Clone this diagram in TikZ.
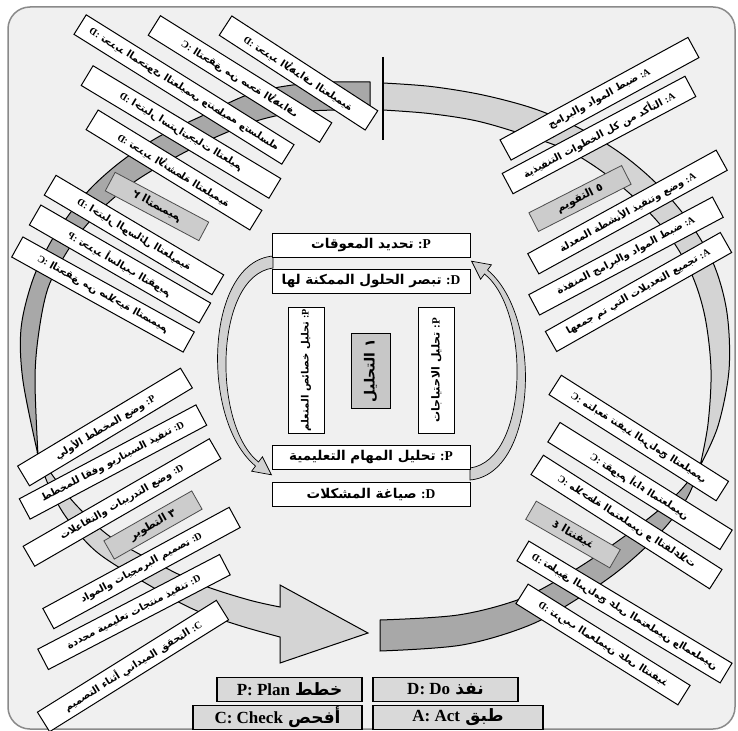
\documentclass[tikz,border=0pt]{standalone}
\usepackage{fontspec}
\usepackage{graphicx}
\TeXXeTstate=1
\newfontfamily\arf[Script=Arabic]{DejaVu Sans}
\newfontfamily\latf{Liberation Serif}
\newsavebox\mysbox
\newcommand\fitto[2]{\sbox\mysbox{#2}\ifdim\wd\mysbox>#1\resizebox{#1}{!}{\usebox\mysbox}\else\usebox\mysbox\fi}
\newcommand\tg[1]{{\latf\bfseries :#1}}
\newcommand\A{\arf\bfseries}
\definecolor{bgc}{HTML}{F0F0F0}
\definecolor{framec}{HTML}{8A8A8A}
\begin{document}
\begin{tikzpicture}[x=1pt,y=-1pt,
  box/.style={draw=black, fill=white, line width=1pt, minimum height=23pt, inner sep=0pt, font=\fontsize{10}{11}\selectfont},
  lab/.style={draw=black!70, fill=black!20, line width=0.8pt, minimum height=21pt, inner sep=0pt, font=\fontsize{11}{12}\selectfont},
  cbox/.style={draw=black, fill=white, line width=1pt, minimum height=24pt, minimum width=198pt, inner sep=0pt, font=\fontsize{13.5}{15}\selectfont},
  vbox/.style={draw=black, fill=white, line width=1pt, minimum height=36pt, minimum width=126pt, inner sep=0pt, rotate=90, font=\fontsize{11}{12}\selectfont},
  leg/.style={draw=black, fill=black!15, line width=1.3pt, minimum height=24pt, inner sep=0pt, font=\fontsize{17}{18}\selectfont},
  banddark/.style={draw=black, line width=1pt, fill=black!34},
  bandlight/.style={draw=black, line width=1pt, fill=black!17},
  iarrow/.style={draw=black, line width=0.7pt, fill=black!18},
]
\useasboundingbox (0,0) rectangle (738,730);
\fill[white] (0,0) rectangle (738,730);
\draw[framec, fill=bgc, line width=1.5pt, rounded corners=22pt] (8,7) rectangle (735,729);

% design arc (top-left, tapering down the left side)
\path[banddark] plot[smooth,tension=0.55] coordinates {(370,82) (310,83) (253,93) (204,115) (160,136) (123,160) (92,187) (68,216) (49,245) (32,282) (21,329) (23,381) (38,455)}
  -- plot[smooth,tension=0.55] coordinates {(38,455) (35,379) (39,331) (48,288) (65,255) (84,228) (108,203) (137,180) (174,158) (216,137) (263,119) (310,111) (370,110)}
  -- cycle;
% development arrow (bottom-left, widening to the head)
\path[bandlight] plot[smooth,tension=0.55] coordinates {(38,455) (48,484) (66,517) (98,553) (154,588) (195,610) (241,626) (280,637)}
  -- (280,663) -- (368,633) -- (280,585) -- (280,607)
  -- plot[smooth,tension=0.55] coordinates {(280,607) (249,600) (205,586) (166,568) (112,538) (78,507) (56,480) (38,455)}
  -- cycle;
% implementation arc (bottom-right)
\path[banddark] plot[smooth,tension=0.55] coordinates {(380,651) (462,645) (530,625) (582,596) (622,568) (661,532) (687,498) (700,466)}
  -- plot[smooth,tension=0.55] coordinates {(700,466) (679,492) (649,518) (608,548) (568,574) (520,599) (458,615) (380,620)}
  -- cycle;
% evaluation arc (right side up to the top)
\path[bandlight] plot[smooth,tension=0.55] coordinates {(700,466) (718,426) (729,370) (727,313) (714,265) (690,223) (659,186) (623,155) (581,129) (535,109) (483,95) (431,86.5) (383,83)}
  -- (383,110)
  -- plot[smooth,tension=0.55] coordinates {(383,110) (429,113.5) (477,121) (525,135) (569,151) (607,175) (641,204) (670,237) (692,275) (705,317) (711,370) (708,424) (700,466)}
  -- cycle;
\draw[line width=1.5pt] (383,57) -- (383,140);

% inner arrows
\path[iarrow] (273,256) .. controls (205,262) and (200,420) .. (255.5,466) -- (251.6,471.2) -- (271.4,474.8) -- (262.4,456.8) -- (258.5,462) .. controls (212,425) and (214,276) .. (273,268) -- cycle;
\path[iarrow] (470,480) .. controls (538,474) and (543,316) .. (487.5,270) -- (491.4,264.8) -- (471.6,261.2) -- (480.6,279.2) -- (484.5,274) .. controls (531,311) and (529,460) .. (470,468) -- cycle;

% centre
\node[cbox] (c1) at (371,245) {\fitto{180pt}{{\A\beginR تحديد المعوقات\endR}\ \tg{P}}};
\node[cbox] (c2) at (371,281) {\fitto{180pt}{{\A\beginR تبصر الحلول الممكنة لها\endR}\ \tg{D}}};
\node[vbox] (v1) at (306,370) {\fitto{122pt}{{\A\beginR تحليل خصائص المتعلم\endR}\ \tg{P}}};
\node[vbox, fill=black!22, minimum width=75pt, minimum height=39pt, font=\fontsize{14}{15}\selectfont] (c0) at (370.5,370.5) {{\A\beginR ١ التحليل\endR}};
\node[vbox] (v2) at (436.5,370.5) {\fitto{122pt}{{\A\beginR تحليل الاحتياجات\endR}\ \tg{P}}};
\node[cbox] (c3) at (371,457) {\fitto{180pt}{{\A\beginR تحليل المهام التعليمية\endR}\ \tg{P}}};
\node[cbox] (c4) at (371,494) {\fitto{180pt}{{\A\beginR صياغة المشكلات\endR}\ \tg{D}}};

% upper-left group (design), mirrored
\node[box, minimum width=174pt, rotate=-33] (ul1) at (298.5,73) {\reflectbox{\fitto{162pt}{{\A\beginR تحديد الأهداف التعليمية\endR}\ \tg{D}}}};
\node[box, minimum width=202pt, rotate=-32] (ul2) at (240,79) {\reflectbox{\fitto{190pt}{{\A\beginR التحقق من صحة الأهداف\endR}\ \tg{C}}}};
\node[box, minimum width=245pt, rotate=-32] (ul3) at (184,89.5) {\reflectbox{\fitto{232pt}{{\A\beginR تحديد المحتوى التعليمي وتنظيمه وتسلسله\endR}\ \tg{D}}}};
\node[box, minimum width=219pt, rotate=-31] (ul4) at (181,132) {\reflectbox{\fitto{206pt}{{\A\beginR اختيار استراتيجيات التعليم\endR}\ \tg{D}}}};
\node[box, minimum width=192pt, rotate=-31.5] (ul5) at (174,170) {\reflectbox{\fitto{180pt}{{\A\beginR تحديد الأنشطة التعليمية\endR}\ \tg{D}}}};
\node[lab, minimum width=106pt, rotate=-28] (l2) at (157,206.5) {\reflectbox{{\A\beginR ٢ التصميم\endR}}};
\node[box, minimum width=195pt, rotate=-30.7] (ul6) at (134,235) {\reflectbox{\fitto{183pt}{{\A\beginR اختيار الوسائل التعليمية\endR}\ \tg{D}}}};
\node[box, minimum width=196pt, rotate=-30] (ul7) at (120,264) {\reflectbox{\fitto{184pt}{{\A\beginR تحديد أساليب التقويم\endR}\ \tg{P}}}};
\node[box, minimum width=196pt, rotate=-29] (ul8) at (103,294.5) {\reflectbox{\fitto{184pt}{{\A\beginR التحقق من صلاحية التصميم\endR}\ \tg{C}}}};

% upper-right group (evaluation)
\node[box, minimum width=214pt, rotate=28.6] (ur1) at (599.5,98.75) {\fitto{202pt}{{\A\beginR ضبط المواد والبرامج\endR}\ \tg{A}}};
\node[box, minimum width=207pt, rotate=28] (ur2) at (599,135) {\fitto{196pt}{{\A\beginR التأكد من كل الخطوات التنفيذية\endR}\ \tg{A}}};
\node[lab, minimum width=104pt, rotate=27] (l5) at (580,198.5) {{\A\beginR ٥ التقويم\endR}};
\node[box, minimum width=215pt, rotate=28.8] (ur3) at (627.5,212) {\fitto{203pt}{{\A\beginR وضع وتنفيذ الأنشطة المعدلة\endR}\ \tg{A}}};
\node[box, minimum width=208pt, rotate=28] (ur4) at (626,256) {\fitto{196pt}{{\A\beginR ضبط المواد والبرامج المنفذة\endR}\ \tg{A}}};
\node[box, minimum width=201pt, rotate=29.5] (ur5) at (638.5,292) {\fitto{190pt}{{\A\beginR تجميع التعديلات التي تم جمعها\endR}\ \tg{A}}};

% lower-left group (development)
\node[box, minimum width=190pt, rotate=31] (ll1) at (105,427) {\fitto{178pt}{{\A\beginR وضع المخطط الأولي\endR}\ \tg{P}}};
\node[box, minimum width=200pt, rotate=28] (ll2) at (113,462) {\fitto{188pt}{{\A\beginR تنفيذ السيناريو وفقا للمخطط\endR}\ \tg{D}}};
\node[box, minimum width=215pt, rotate=30] (ll3) at (122,502.5) {\fitto{203pt}{{\A\beginR وضع التدريبات والتفاعلات\endR}\ \tg{D}}};
\node[lab, minimum width=101pt, rotate=29.6] (l3) at (153,525) {{\A\beginR ٣ التطوير\endR}};
\node[box, minimum width=212pt, rotate=28.5] (ll4) at (141.5,568) {\fitto{200pt}{{\A\beginR تصميم البرمجيات والمواد\endR}\ \tg{D}}};
\node[box, minimum width=205pt, rotate=27.5] (ll5) at (134,612) {\fitto{193pt}{{\A\beginR تنفيذ منتجات تعليمية محددة\endR}\ \tg{D}}};
\node[box, minimum width=211pt, rotate=32] (ll6) at (133,666) {\fitto{199pt}{{\A\beginR التحقق الميداني أثناء التصميم\endR}\ \tg{C}}};

% lower-right group (implementation), mirrored
\node[box, minimum width=198pt, rotate=-32.4] (lr1) at (638.75,438) {\reflectbox{\fitto{186pt}{{\A\beginR متابعة تنفيذ البرنامج التعليمي\endR}\ \tg{C}}}};
\node[box, minimum width=203pt, rotate=-32] (lr2) at (640,486) {\reflectbox{\fitto{191pt}{{\A\beginR تقويم أداء المتعلمين\endR}\ \tg{C}}}};
\node[box, minimum width=212pt, rotate=-32.6] (lr3) at (626.5,522) {\reflectbox{\fitto{200pt}{{\A\beginR ملاحظة المتعلمين و التفاعلات\endR}\ \tg{C}}}};
\node[lab, minimum width=97pt, rotate=-30] (l4) at (573,534.5) {\reflectbox{{\A\beginR ٤ التنفيذ\endR}}};
\node[box, minimum width=237pt, rotate=-31] (lr4) at (624.5,612) {\reflectbox{\fitto{225pt}{{\A\beginR تطبيق البرنامج على المتعلمين والمعلمين\endR}\ \tg{D}}}};
\node[box, minimum width=191pt, rotate=-32] (lr5) at (603,644.5) {\reflectbox{\fitto{179pt}{{\A\beginR تدريب المعلمين على التنفيذ\endR}\ \tg{D}}}};

% legend
\node[leg, minimum width=145pt] (lp) at (289.5,689.5) {{\latf\bfseries P: Plan}\ {\A\beginR خطط\endR}};
\node[leg, minimum width=145pt] (ld) at (445.5,689.5) {{\latf\bfseries D: Do}\ {\A\beginR نفذ\endR}};
\node[leg, minimum width=169pt] (lc) at (277.5,717.5) {{\latf\bfseries C: Check}\ {\A\beginR أفحص\endR}};
\node[leg, minimum width=170pt] (la) at (458,717.5) {{\latf\bfseries A: Act}\ {\A\beginR طبق\endR}};
\end{tikzpicture}
\end{document}
